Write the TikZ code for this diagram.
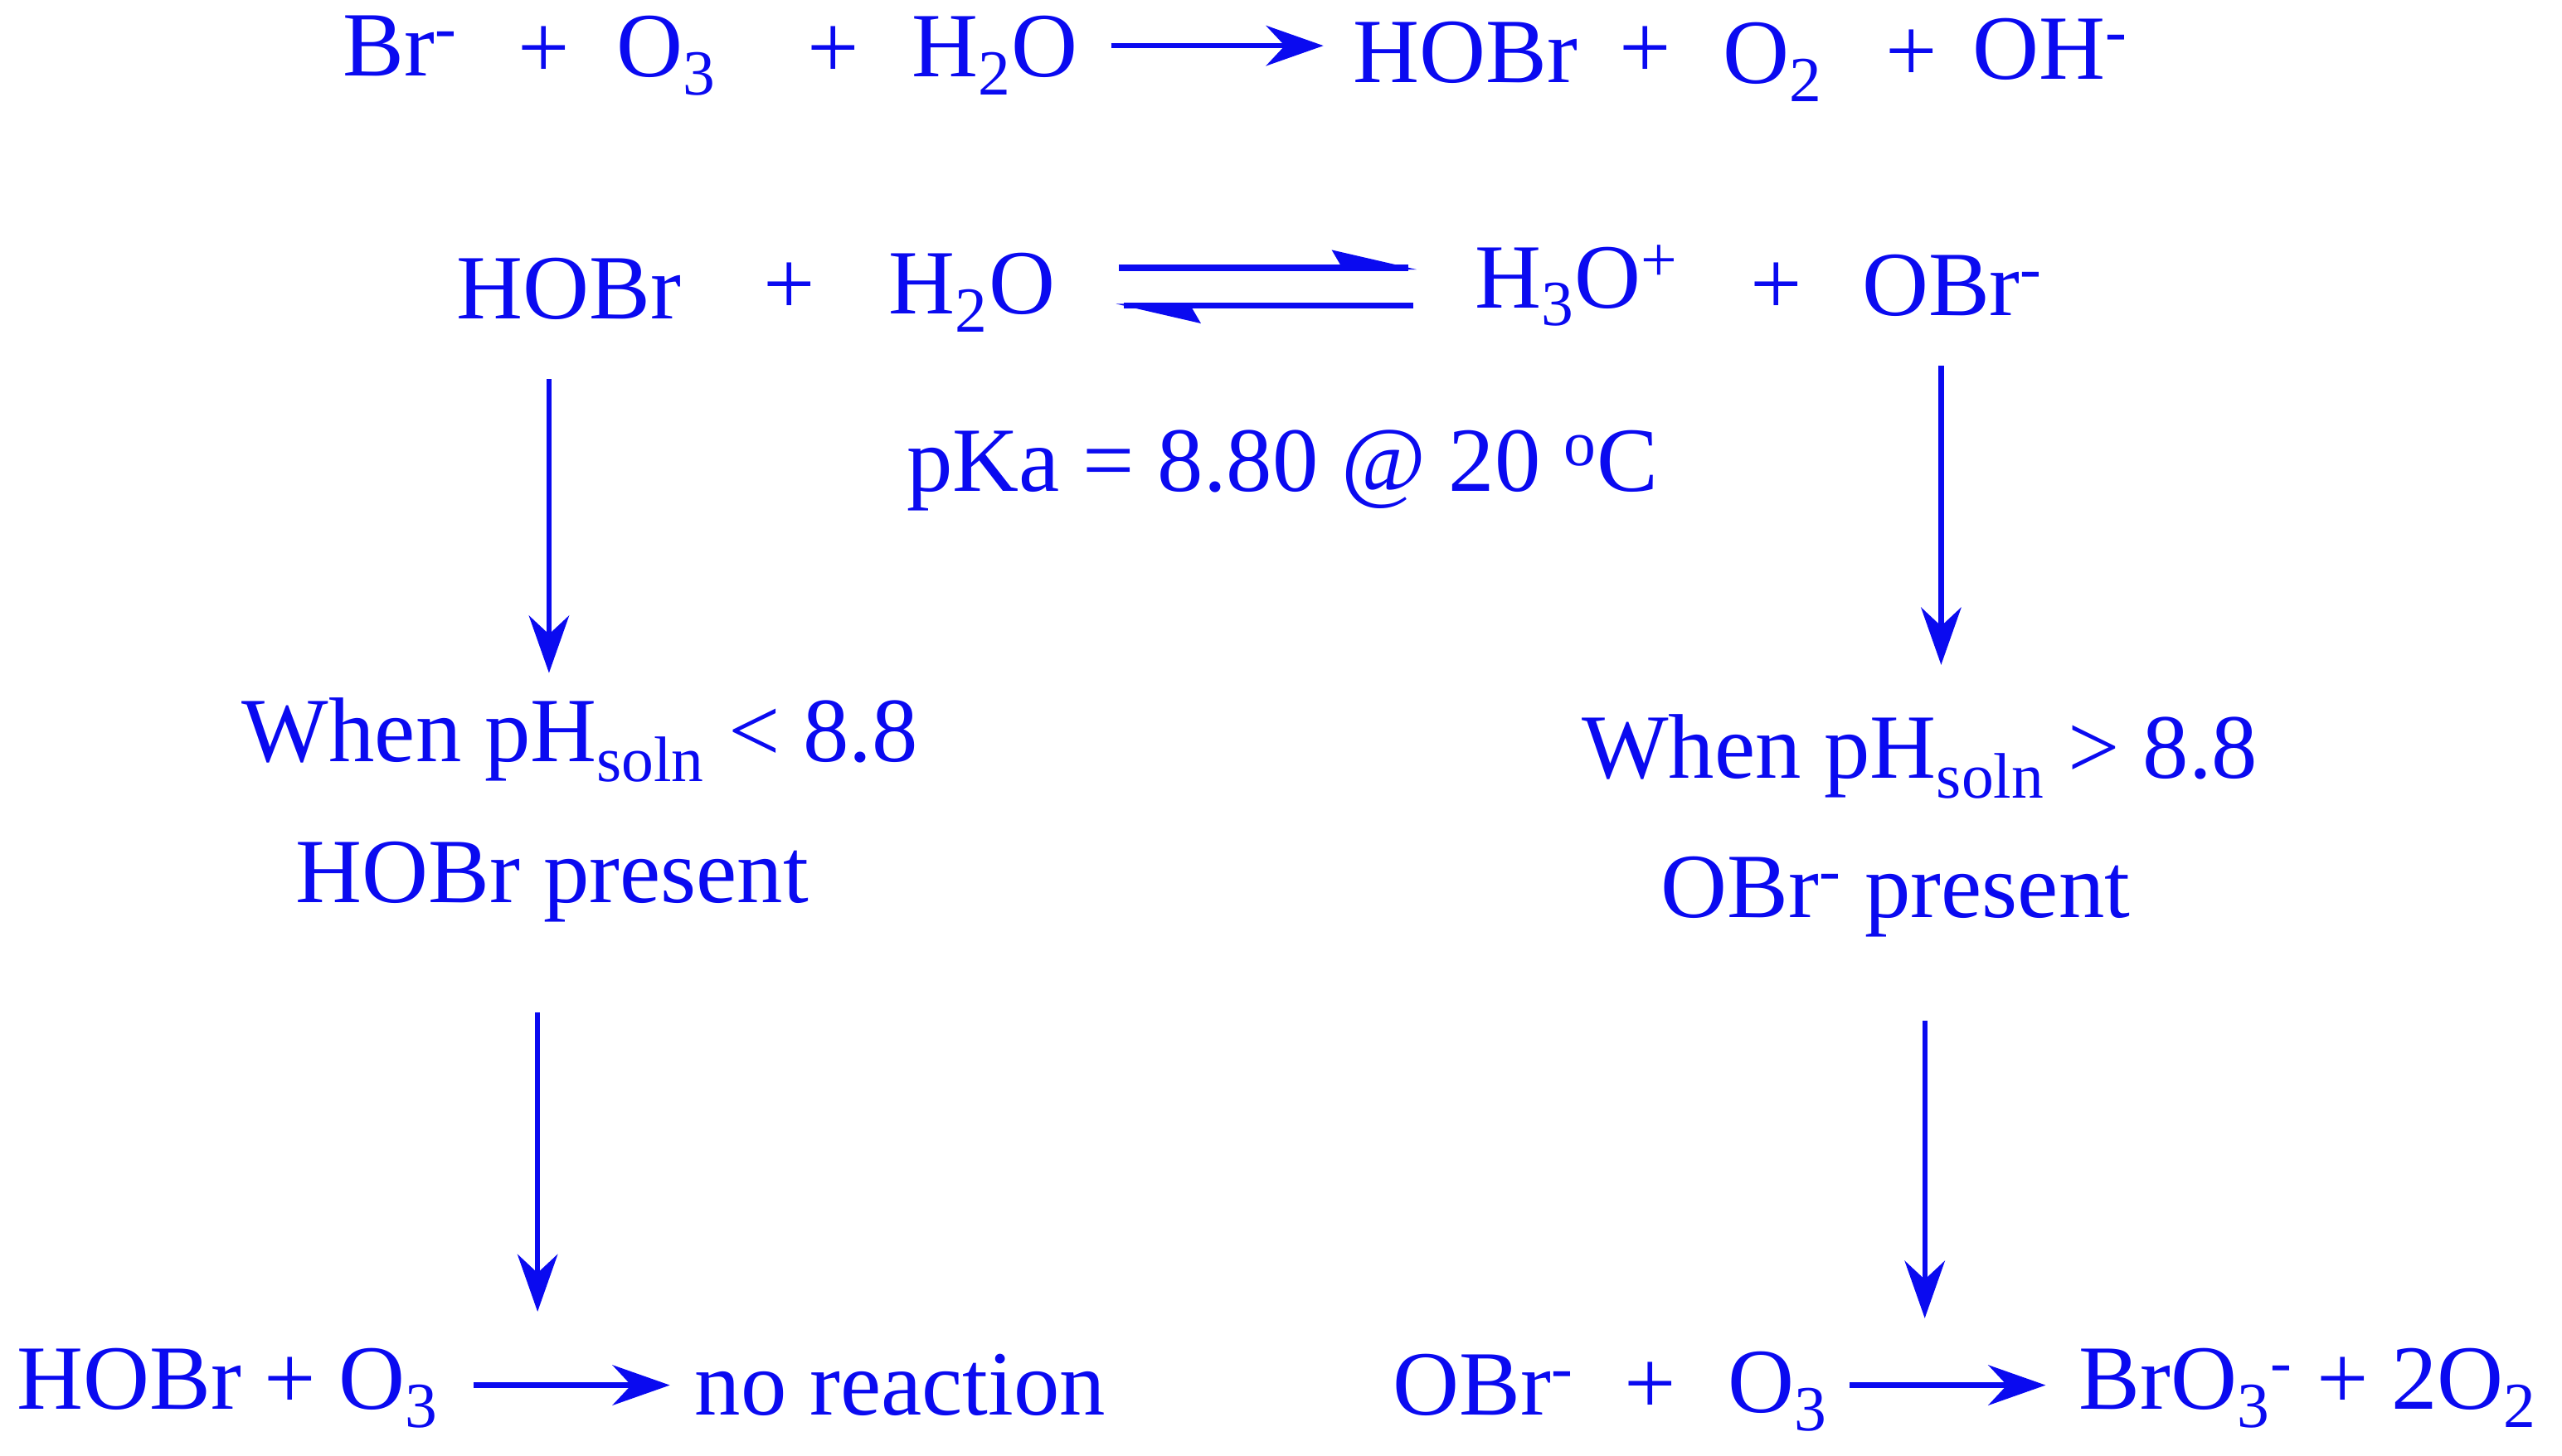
\documentclass[tikz,border=0pt]{standalone}
\usepackage{fontspec}
\setmainfont{Liberation Serif}
\usetikzlibrary{arrows.meta}
\definecolor{cb}{RGB}{10,10,240}
\newcommand\upx[1]{\textsuperscript{#1}}
\newcommand\dnx[1]{\textsubscript{#1}}
\begin{document}
\begin{tikzpicture}[x=0.02cm,y=-0.02cm,
  t/.style={text=cb,font=\fontsize{32}{38}\selectfont,inner sep=0pt},
  ar/.style={draw=cb,line width=1.8pt,-{Stealth[length=20pt,width=14pt]}}]
\useasboundingbox (0,0) rectangle (1568,891);
% line 1
\node[t] (a1) at (245,28) {Br\upx{-}};
\node[t] at (333,32) {+};
\node[t] (a2) at (408,34) {O\dnx{3}};
\node[t] at (510,32) {+};
\node[t,anchor=east] (a3) at (660,34) {H\dnx{2}O};
\node[t,anchor=west] (a4) at (828,32) {HOBr};
\node[t] at (1007,32) {+};
\node[t] at (1085,38) {O\dnx{2}};
\node[t] at (1170,34) {+};
\node[t] at (1255,30) {OH\upx{-}};
\draw[ar] (680,28) -- (810,28);
% line 2
\node[t] (b1) at (348,177) {HOBr};
\node[t] at (483,177) {+};
\node[t] (b2) at (595,179) {H\dnx{2}O};
\node[t] (b3) at (965,175) {H\dnx{3}O\upx{+}};
\node[t] at (1087,177) {+};
\node[t] (b4) at (1195,175) {OBr\upx{-}};
\draw[cb,line width=2.2pt] (685,164) -- (862,164);
\fill[cb] (867,165) -- (815,153) -- (822,165) -- cycle;
\draw[cb,line width=2.2pt] (688,187) -- (865,187);
\fill[cb] (683,186) -- (735,198) -- (728,186) -- cycle;
\node[t] (pk) at (785,288) {pKa = 8.80 @ 20 \upx{o}C};
% middle
\node[t] (c1) at (355,453) {When pH\dnx{soln} < 8.8};
\node[t] (c2) at (338,540) {HOBr present};
\node[t] (d1) at (1175,463) {When pH\dnx{soln} > 8.8};
\node[t] (d2) at (1160,549) {OBr\upx{-} present};
\coordinate (l1) at (336,232); \coordinate (l2) at (336,412);
\coordinate (r1) at (1188,224); \coordinate (r2) at (1188,407);
\coordinate (l3) at (329,620); \coordinate (l4) at (329,803);
\coordinate (r3) at (1178,625); \coordinate (r4) at (1178,807);
\draw[ar] (l1) -- (l2);
\draw[ar] (r1) -- (r2);
\draw[ar] (l3) -- (l4);
\draw[ar] (r3) -- (r4);
% bottom
\node[t,anchor=west] (e1) at (10,850) {HOBr + O\dnx{3}};
\node[t,anchor=west] (e2) at (425,848) {no reaction};
\draw[ar] (290,848) -- (410,848);
\node[t] (f1) at (908,848) {OBr\upx{-}};
\node[t] at (1010,850) {+};
\node[t] (f2) at (1088,852) {O\dnx{3}};
\draw[ar] (1132,848) -- (1252,848);
\node[t,anchor=west] (f3) at (1272,850) {BrO\dnx{3}\upx{-} + 2O\dnx{2}};
\end{tikzpicture}
\end{document}
